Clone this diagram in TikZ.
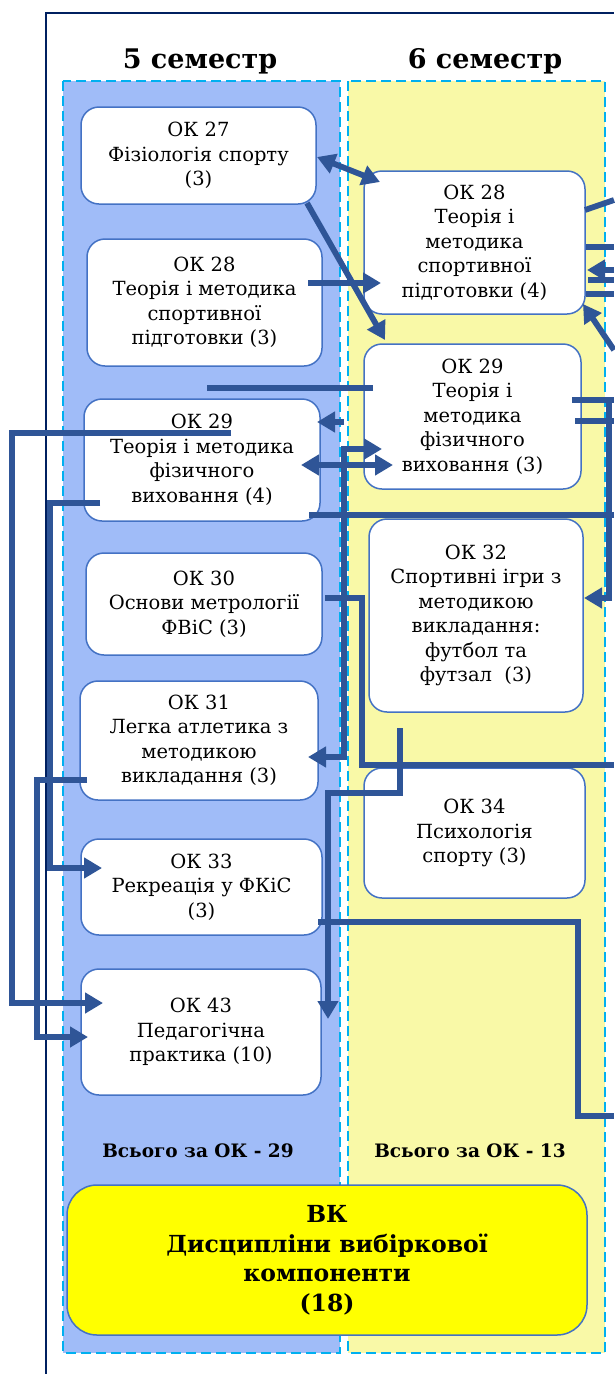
\documentclass[tikz,border=0pt]{standalone}
\usepackage{fontspec}
\setmainfont{DejaVu Serif}
\usetikzlibrary{arrows.meta}
\definecolor{colA}{HTML}{A0BCF8}
\definecolor{colB}{HTML}{F9F9A7}
\definecolor{dashc}{HTML}{00B0F0}
\definecolor{boxc}{HTML}{4472C4}
\definecolor{connc}{HTML}{2F5597}
\definecolor{framec}{HTML}{002060}
\definecolor{vkc}{HTML}{FFFF00}
\tikzset{
  colbox/.style={draw=dashc, line width=1.5pt, dash pattern=on 10pt off 5pt},
  okbox/.style={draw=boxc, fill=white, line width=1.5pt, rounded corners=18pt, inner sep=0pt, align=center,
     font=\fontsize{19.5}{24.5}\selectfont},
  conn/.style={draw=connc, line width=5.8pt},
  arr/.style={conn, -{Triangle[length=18pt,width=20pt]}},
  darr/.style={conn, {Triangle[length=18pt,width=20pt]}-{Triangle[length=18pt,width=20pt]}},
  hdr/.style={font=\bfseries\fontsize{27}{32}\selectfont},
  tot/.style={font=\bfseries\fontsize{18.5}{22}\selectfont},
}
\begin{document}
\begin{tikzpicture}[x=1pt,y=-1pt]
\useasboundingbox (0,0) rectangle (614,1374);
% frame
\draw[framec, line width=2.5pt] (46,1374) -- (46,13) -- (614,13);
% headers
\node[hdr] (h5) at (200,61) {5 семестр};
\node[hdr] (h6) at (485,61) {6 семестр};
% columns
\filldraw[fill=colA, colbox] (63,81) rectangle (340,1353);
\filldraw[fill=colB, colbox] (348,81) rectangle (605,1353);
% column 1 boxes
\node[okbox, minimum width=235pt, minimum height=97pt] (ok27) at (198.5,155.5) {ОК 27\\Фізіологія спорту\\(3)};
\node[okbox, minimum width=235pt, minimum height=127pt] (ok28a) at (204.5,302.5) {ОК 28\\Теорія і методика\\спортивної\\підготовки (3)};
\node[okbox, minimum width=236pt, minimum height=122pt] (ok29a) at (202,460) {ОК 29\\Теорія і методика\\фізичного\\виховання (4)};
\node[okbox, minimum width=236pt, minimum height=102pt] (ok30) at (204,604) {ОК 30\\Основи метрології\\ФВіС (3)};
\node[okbox, minimum width=238pt, minimum height=119pt] (ok31) at (199,740.5) {ОК 31\\Легка атлетика з\\методикою\\викладання (3)};
\node[okbox, minimum width=241pt, minimum height=96pt] (ok33) at (201.5,887) {ОК 33\\Рекреація у ФКіС\\(3)};
\node[okbox, minimum width=240pt, minimum height=126pt] (ok43) at (201,1032) {ОК 43\\Педагогічна\\практика (10)};
% column 2 boxes
\node[okbox, minimum width=221pt, minimum height=143pt] (ok28b) at (474.5,242.5) {ОК 28\\Теорія і\\методика\\спортивної\\підготовки (4)};
\node[okbox, minimum width=217pt, minimum height=145pt] (ok29b) at (472.5,416.5) {ОК 29\\Теорія і\\методика\\фізичного\\виховання (3)};
\node[okbox, minimum width=214pt, minimum height=193pt] (ok32) at (476,615.5) {ОК 32\\Спортивні ігри з\\методикою\\викладання:\\футбол та\\футзал~ (3)};
\node[okbox, minimum width=221pt, minimum height=130pt] (ok34) at (474.5,833) {ОК 34\\Психологія\\спорту (3)};
% totals
\node[tot] (t5) at (198,1151) {Всього за ОК - 29};
\node[tot] (t6) at (470,1151) {Всього за ОК - 13};
% VK
\node[okbox, fill=vkc, rounded corners=30pt, minimum width=520pt, minimum height=150pt,
   font=\bfseries\fontsize{23.5}{29.5}\selectfont] (vk) at (327,1260) {ВК\\Дисципліни вибіркової\\компоненти\\(18)};
% connector coordinates
\coordinate (e1) at (614,515);
\coordinate (e2) at (614,765);
\coordinate (e3) at (614,1116);
% connectors
\draw[darr] (317,157) -- (380,182);
\draw[arr] (307,203) -- (385,340);
\draw[arr] (308,283) -- (381,283);
\draw[conn] (373,388) -- (207,388);
\draw[arr] (344,422) -- (317,422);
\draw[darr] (301,465) -- (393,465);
\draw[darr] (382,449) -- (344,449) -- (344,757) -- (308,757);
\draw[conn] (309,515) -- (e1);
\draw[conn] (325,598) -- (362,598) -- (362,765) -- (e2);
\draw[arr] (400,728) -- (400,793) -- (328,793) -- (328,1019);
\draw[conn] (318,922) -- (578,922) -- (578,1116) -- (e3);
\draw[arr] (231,433) -- (12,433) -- (12,1003) -- (103,1003);
\draw[arr] (100,503) -- (50,503) -- (50,868) -- (102,868);
\draw[arr] (87,780) -- (37,780) -- (37,1037) -- (88,1037);
% right side
\draw[conn] (585,210) -- (614,200);
\draw[conn] (586,247) -- (614,247);
\draw[arr] (614,270) -- (587,270);
\draw[conn] (588,280) -- (614,280);
\draw[conn] (586,294) -- (614,294);
\draw[arr] (614,350) -- (583,304);
\draw[conn] (572,400) -- (614,400);
\draw[arr] (609,400) -- (609,598) -- (584,598);
\draw[conn] (575,421) -- (614,421);
\end{tikzpicture}
\end{document}
